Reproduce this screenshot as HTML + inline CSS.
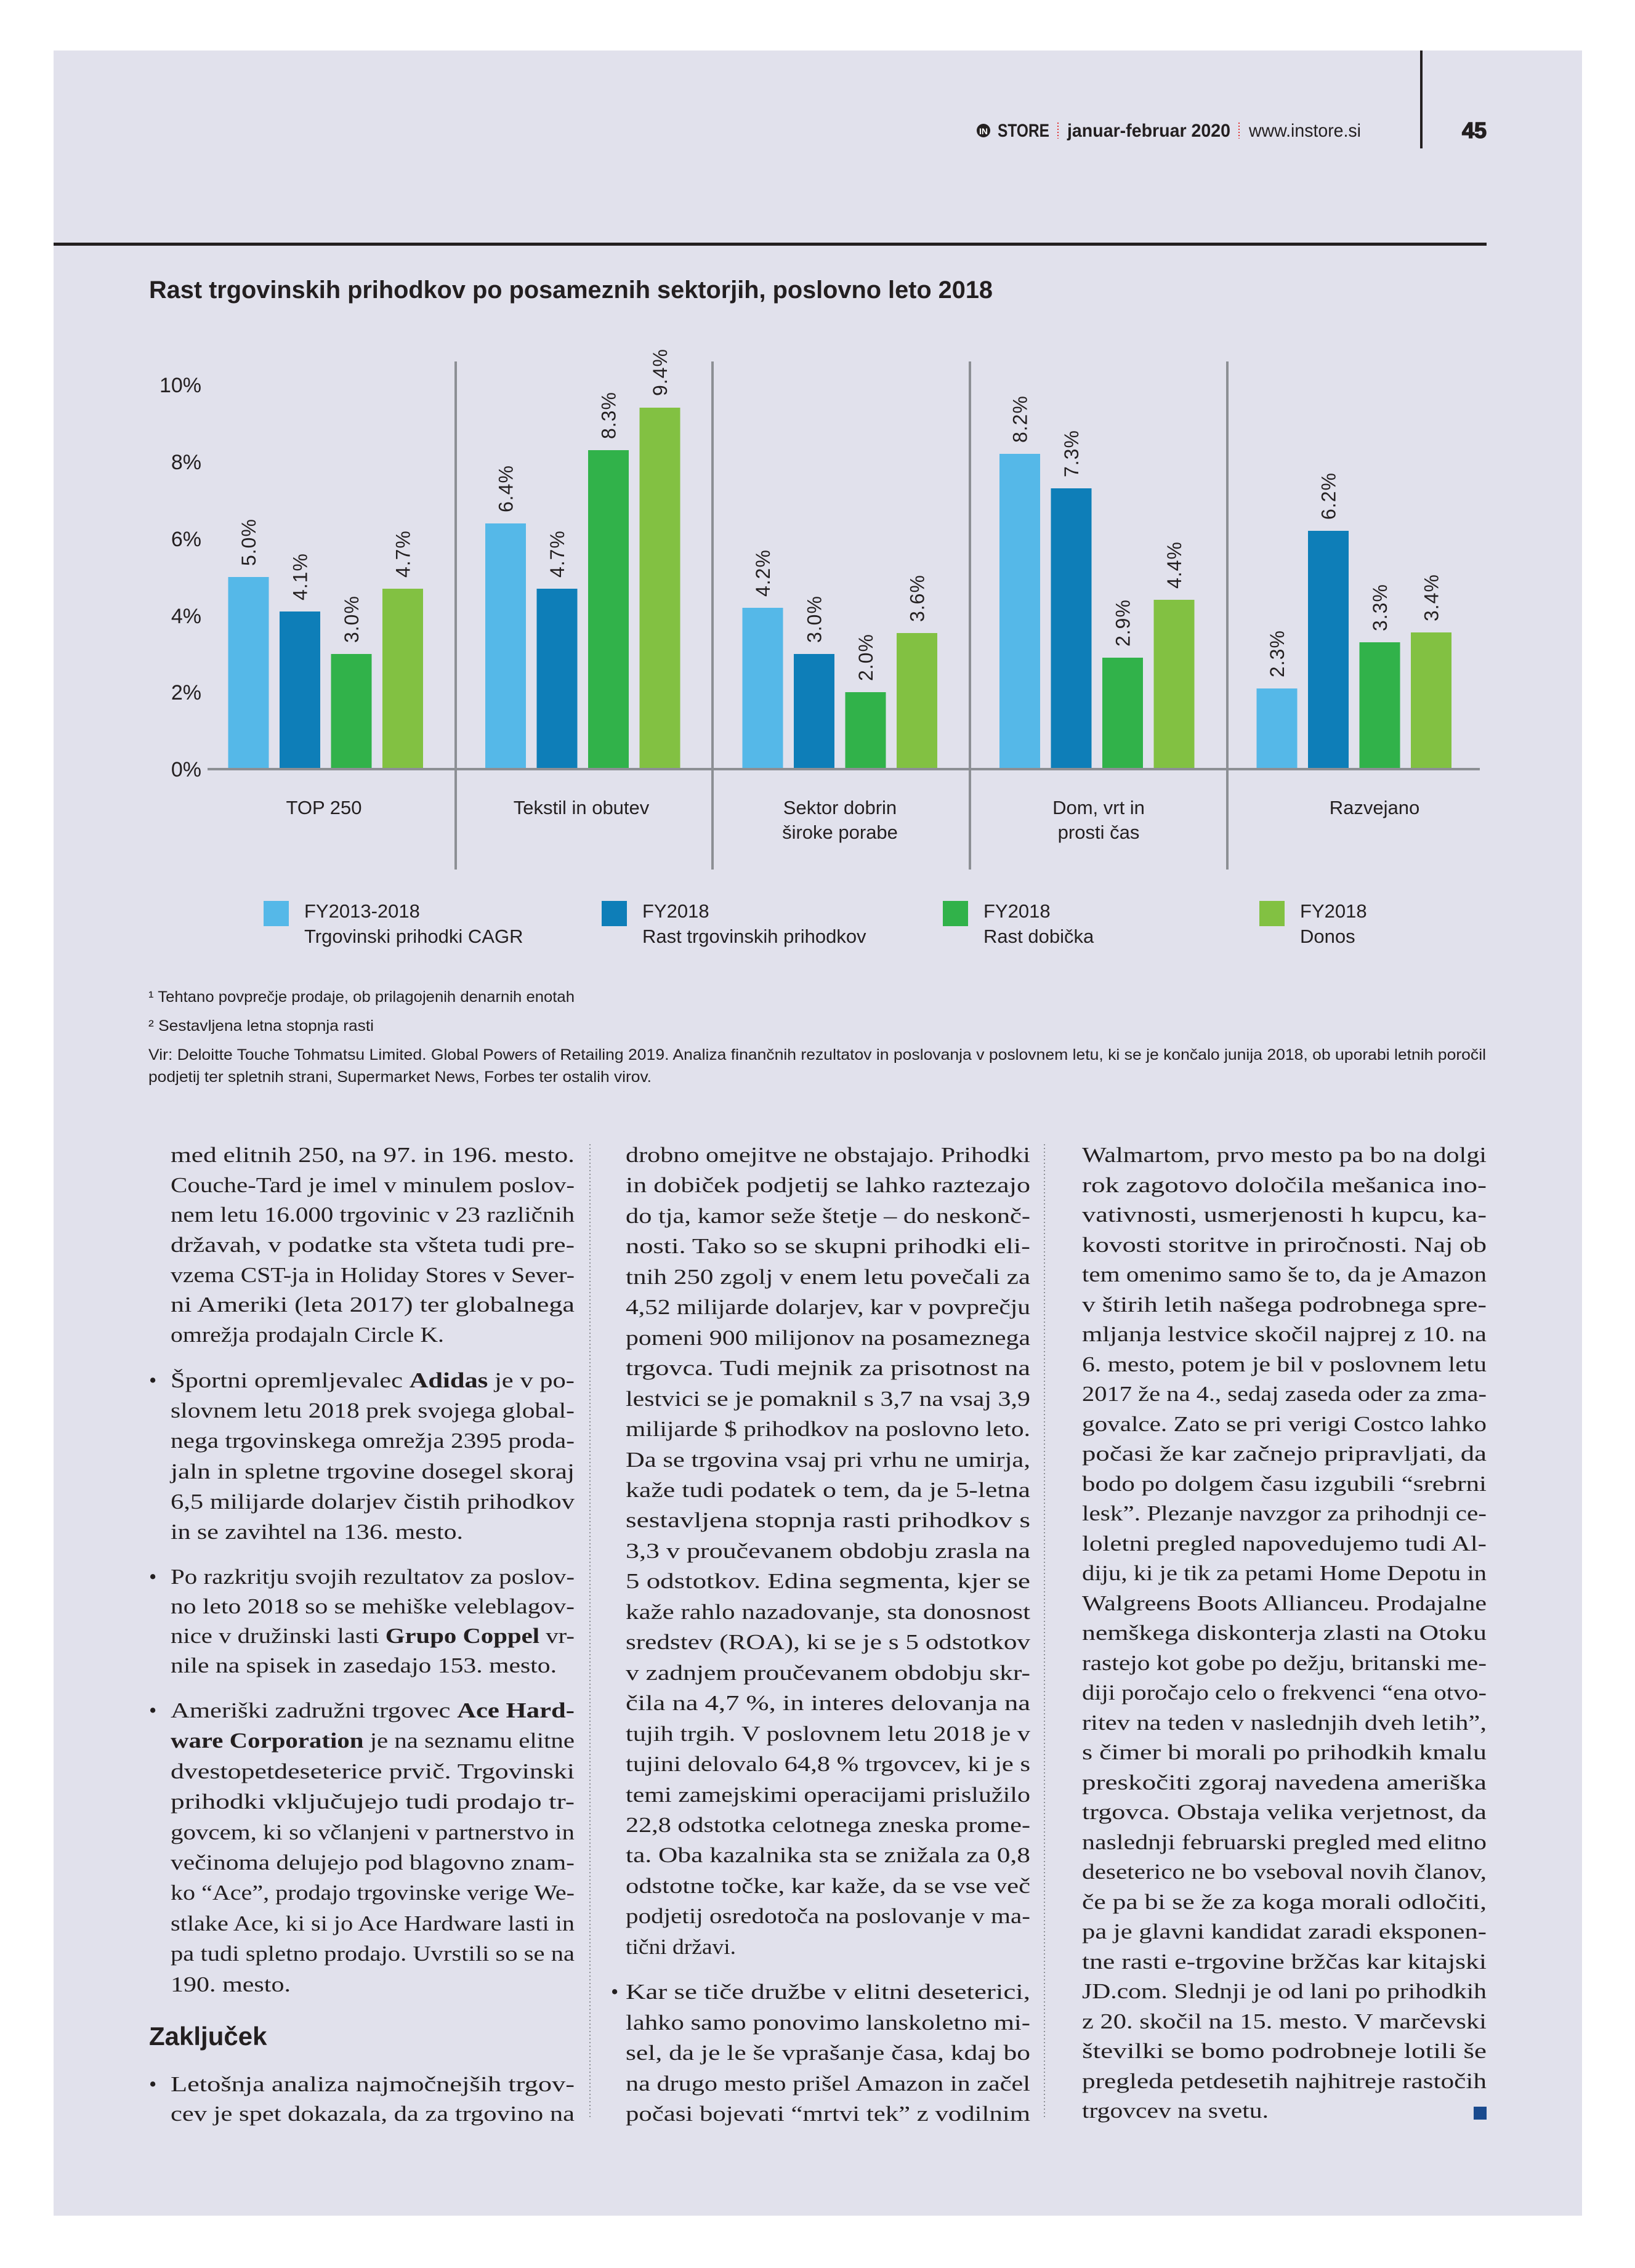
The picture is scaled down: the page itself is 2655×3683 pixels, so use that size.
<!DOCTYPE html>
<html><head><meta charset="utf-8"><style>
html,body{margin:0;padding:0;background:#fff}
body{width:2655px;height:3683px;position:relative;overflow:hidden}
#panel{position:absolute;left:87px;top:82px;width:2482px;height:3516px;background:#e1e1ec}
svg{position:absolute;left:0;top:0}
</style></head><body>
<div id="panel"></div>
<svg width="2655" height="3683" viewBox="0 0 2655 3683" xmlns="http://www.w3.org/2000/svg" font-family="Liberation Sans, sans-serif" fill="#231f20">
<rect x="2306" y="82" width="4" height="159" fill="#231f20"/>
<circle cx="1597" cy="212" r="11" fill="#231f20"/>
<text x="1597" y="218" font-size="14" font-weight="bold" fill="#fff" text-anchor="middle">IN</text>
<text x="1620" y="222" font-size="30" font-weight="bold" textLength="84" lengthAdjust="spacingAndGlyphs">STORE</text>
<line x1="1718" y1="199" x2="1718" y2="225" stroke="#e03030" stroke-width="2" stroke-dasharray="2,3"/>
<text x="1733" y="222" font-size="30" font-weight="bold" textLength="265" lengthAdjust="spacingAndGlyphs">januar-februar 2020</text>
<line x1="2012" y1="199" x2="2012" y2="225" stroke="#e03030" stroke-width="2" stroke-dasharray="2,3"/>
<text x="2028" y="222" font-size="30" textLength="182" lengthAdjust="spacingAndGlyphs">www.instore.si</text>
<text x="2374" y="224" font-size="36" font-weight="bold" stroke="#231f20" stroke-width="1.5" textLength="40" lengthAdjust="spacingAndGlyphs">45</text>
<rect x="87" y="394" width="2327" height="5" fill="#231f20"/>
<text x="242" y="484" font-size="40" font-weight="bold" textLength="1370" lengthAdjust="spacingAndGlyphs">Rast trgovinskih prihodkov po posameznih sektorjih, poslovno leto 2018</text>
<g font-size="34" text-anchor="end">
<text x="327" y="1261">0%</text><text x="327" y="1136">2%</text><text x="327" y="1012">4%</text>
<text x="327" y="887">6%</text><text x="327" y="762">8%</text><text x="327" y="637">10%</text>
</g>
<g fill="#8c8f94">
<rect x="738" y="587" width="4" height="825"/><rect x="1155" y="587" width="4" height="825"/>
<rect x="1573" y="587" width="4" height="825"/><rect x="1991" y="587" width="4" height="825"/>
</g>
<g>
<rect x="370.5" y="937" width="66" height="312" fill="#55b8e8"/>
<rect x="454" y="993" width="66" height="256" fill="#0e7eb8"/>
<rect x="537.5" y="1062" width="66" height="187" fill="#31b24a"/>
<rect x="621" y="956" width="66" height="293" fill="#82c142"/>
<rect x="788" y="850" width="66" height="399" fill="#55b8e8"/>
<rect x="871.5" y="956" width="66" height="293" fill="#0e7eb8"/>
<rect x="955" y="731" width="66" height="518" fill="#31b24a"/>
<rect x="1038.5" y="662" width="66" height="587" fill="#82c142"/>
<rect x="1205.5" y="987" width="66" height="262" fill="#55b8e8"/>
<rect x="1289" y="1062" width="66" height="187" fill="#0e7eb8"/>
<rect x="1372.5" y="1124" width="66" height="125" fill="#31b24a"/>
<rect x="1456" y="1028" width="66" height="221" fill="#82c142"/>
<rect x="1623" y="737" width="66" height="512" fill="#55b8e8"/>
<rect x="1706.5" y="793" width="66" height="456" fill="#0e7eb8"/>
<rect x="1790" y="1068" width="66" height="181" fill="#31b24a"/>
<rect x="1873.5" y="974" width="66" height="275" fill="#82c142"/>
<rect x="2040.5" y="1118" width="66" height="131" fill="#55b8e8"/>
<rect x="2124" y="862" width="66" height="387" fill="#0e7eb8"/>
<rect x="2207.5" y="1043" width="66" height="206" fill="#31b24a"/>
<rect x="2291" y="1027" width="66" height="222" fill="#82c142"/>
</g>
<rect x="337" y="1247" width="2066" height="4" fill="#8c8f94"/>
<g font-size="32" letter-spacing="1">
<text transform="translate(403.5,919) rotate(-90)" dy="0.36em">5.0%</text>
<text transform="translate(487,975) rotate(-90)" dy="0.36em">4.1%</text>
<text transform="translate(570.5,1044) rotate(-90)" dy="0.36em">3.0%</text>
<text transform="translate(654,938) rotate(-90)" dy="0.36em">4.7%</text>
<text transform="translate(821,832) rotate(-90)" dy="0.36em">6.4%</text>
<text transform="translate(904.5,938) rotate(-90)" dy="0.36em">4.7%</text>
<text transform="translate(988,713) rotate(-90)" dy="0.36em">8.3%</text>
<text transform="translate(1071.5,643) rotate(-90)" dy="0.36em">9.4%</text>
<text transform="translate(1238.5,969) rotate(-90)" dy="0.36em">4.2%</text>
<text transform="translate(1322,1044) rotate(-90)" dy="0.36em">3.0%</text>
<text transform="translate(1405.5,1106) rotate(-90)" dy="0.36em">2.0%</text>
<text transform="translate(1489,1010) rotate(-90)" dy="0.36em">3.6%</text>
<text transform="translate(1656,719) rotate(-90)" dy="0.36em">8.2%</text>
<text transform="translate(1739.5,775) rotate(-90)" dy="0.36em">7.3%</text>
<text transform="translate(1823,1050) rotate(-90)" dy="0.36em">2.9%</text>
<text transform="translate(1906.5,956) rotate(-90)" dy="0.36em">4.4%</text>
<text transform="translate(2073.5,1100) rotate(-90)" dy="0.36em">2.3%</text>
<text transform="translate(2157,844) rotate(-90)" dy="0.36em">6.2%</text>
<text transform="translate(2240.5,1025) rotate(-90)" dy="0.36em">3.3%</text>
<text transform="translate(2324,1009) rotate(-90)" dy="0.36em">3.4%</text>
</g>
<g font-size="31" text-anchor="middle">
<text x="526" y="1322">TOP 250</text>
<text x="944" y="1322">Tekstil in obutev</text>
<text x="1364" y="1322">Sektor dobrin</text><text x="1364" y="1362">široke porabe</text>
<text x="1784" y="1322">Dom, vrt in</text><text x="1784" y="1362">prosti čas</text>
<text x="2232" y="1322">Razvejano</text>
</g>
<rect x="428" y="1463" width="41" height="41" fill="#55b8e8"/>
<rect x="977" y="1463" width="41" height="41" fill="#0e7eb8"/>
<rect x="1531" y="1463" width="41" height="41" fill="#31b24a"/>
<rect x="2045" y="1463" width="41" height="41" fill="#82c142"/>
<g font-size="31">
<text x="494" y="1490">FY2013-2018</text><text x="494" y="1531">Trgovinski prihodki CAGR</text>
<text x="1043" y="1490">FY2018</text><text x="1043" y="1531">Rast trgovinskih prihodkov</text>
<text x="1597" y="1490">FY2018</text><text x="1597" y="1531">Rast dobička</text>
<text x="2111" y="1490">FY2018</text><text x="2111" y="1531">Donos</text>
</g>
<g font-size="25">
<text x="241" y="1627" textLength="692" lengthAdjust="spacingAndGlyphs">¹ Tehtano povprečje prodaje, ob prilagojenih denarnih enotah</text>
<text x="241" y="1674" textLength="366" lengthAdjust="spacingAndGlyphs">² Sestavljena letna stopnja rasti</text>
<text x="241" y="1721" textLength="2172" lengthAdjust="spacingAndGlyphs">Vir: Deloitte Touche Tohmatsu Limited. Global Powers of Retailing 2019. Analiza finančnih rezultatov in poslovanja v poslovnem letu, ki se je končalo junija 2018, ob uporabi letnih poročil</text>
<text x="241" y="1757" textLength="817" lengthAdjust="spacingAndGlyphs">podjetij ter spletnih strani, Supermarket News, Forbes ter ostalih virov.</text>
</g>
<line x1="958" y1="1858" x2="958" y2="3442" stroke="#8c8f94" stroke-width="2" stroke-dasharray="2,4"/>
<line x1="1696" y1="1858" x2="1696" y2="3442" stroke="#8c8f94" stroke-width="2" stroke-dasharray="2,4"/>
<g font-family="Liberation Serif, serif" font-size="35">
<text x="277" y="1887" textLength="656" lengthAdjust="spacingAndGlyphs">med elitnih 250, na 97. in 196. mesto.</text>
<text x="277" y="1936" textLength="656" lengthAdjust="spacingAndGlyphs">Couche-Tard je imel v minulem poslov-</text>
<text x="277" y="1984" textLength="656" lengthAdjust="spacingAndGlyphs">nem letu 16.000 trgovinic v 23 različnih</text>
<text x="277" y="2033" textLength="656" lengthAdjust="spacingAndGlyphs">državah, v podatke sta všteta tudi pre-</text>
<text x="277" y="2082" textLength="656" lengthAdjust="spacingAndGlyphs">vzema CST-ja in Holiday Stores v Sever-</text>
<text x="277" y="2130" textLength="656" lengthAdjust="spacingAndGlyphs">ni Ameriki (leta 2017) ter globalnega</text>
<text x="277" y="2179" textLength="444" lengthAdjust="spacingAndGlyphs">omrežja prodajaln Circle K.</text>
<text x="242" y="2253">•</text>
<text x="277" y="2253" textLength="656" lengthAdjust="spacingAndGlyphs">Športni opremljevalec <tspan font-weight="bold">Adidas</tspan> je v po-</text>
<text x="277" y="2302" textLength="656" lengthAdjust="spacingAndGlyphs">slovnem letu 2018 prek svojega global-</text>
<text x="277" y="2351" textLength="656" lengthAdjust="spacingAndGlyphs">nega trgovinskega omrežja 2395 proda-</text>
<text x="277" y="2401" textLength="656" lengthAdjust="spacingAndGlyphs">jaln in spletne trgovine dosegel skoraj</text>
<text x="277" y="2450" textLength="656" lengthAdjust="spacingAndGlyphs">6,5 milijarde dolarjev čistih prihodkov</text>
<text x="277" y="2499" textLength="475" lengthAdjust="spacingAndGlyphs">in se zavihtel na 136. mesto.</text>
<text x="242" y="2572">•</text>
<text x="277" y="2572" textLength="656" lengthAdjust="spacingAndGlyphs">Po razkritju svojih rezultatov za poslov-</text>
<text x="277" y="2620" textLength="656" lengthAdjust="spacingAndGlyphs">no leto 2018 so se mehiške veleblagov-</text>
<text x="277" y="2668" textLength="656" lengthAdjust="spacingAndGlyphs">nice v družinski lasti <tspan font-weight="bold">Grupo Coppel</tspan> vr-</text>
<text x="277" y="2716" textLength="627" lengthAdjust="spacingAndGlyphs">nile na spisek in zasedajo 153. mesto.</text>
<text x="242" y="2789">•</text>
<text x="277" y="2789" textLength="656" lengthAdjust="spacingAndGlyphs">Ameriški zadružni trgovec <tspan font-weight="bold">Ace Hard-</tspan></text>
<text x="277" y="2838" textLength="656" lengthAdjust="spacingAndGlyphs"><tspan font-weight="bold">ware Corporation</tspan> je na seznamu elitne</text>
<text x="277" y="2888" textLength="656" lengthAdjust="spacingAndGlyphs">dvestopetdeseterice prvič. Trgovinski</text>
<text x="277" y="2937" textLength="656" lengthAdjust="spacingAndGlyphs">prihodki vključujejo tudi prodajo tr-</text>
<text x="277" y="2987" textLength="656" lengthAdjust="spacingAndGlyphs">govcem, ki so včlanjeni v partnerstvo in</text>
<text x="277" y="3036" textLength="656" lengthAdjust="spacingAndGlyphs">večinoma delujejo pod blagovno znam-</text>
<text x="277" y="3085" textLength="656" lengthAdjust="spacingAndGlyphs">ko “Ace”, prodajo trgovinske verige We-</text>
<text x="277" y="3135" textLength="656" lengthAdjust="spacingAndGlyphs">stlake Ace, ki si jo Ace Hardware lasti in</text>
<text x="277" y="3184" textLength="656" lengthAdjust="spacingAndGlyphs">pa tudi spletno prodajo. Uvrstili so se na</text>
<text x="277" y="3234" textLength="195" lengthAdjust="spacingAndGlyphs">190. mesto.</text>
<text x="242" y="3321" font-family="Liberation Sans, sans-serif" font-size="42" font-weight="bold">Zaključek</text>
<text x="242" y="3396">•</text>
<text x="277" y="3396" textLength="656" lengthAdjust="spacingAndGlyphs">Letošnja analiza najmočnejših trgov-</text>
<text x="277" y="3444" textLength="656" lengthAdjust="spacingAndGlyphs">cev je spet dokazala, da za trgovino na</text>
<text x="1016" y="1887" textLength="657" lengthAdjust="spacingAndGlyphs">drobno omejitve ne obstajajo. Prihodki</text>
<text x="1016" y="1936" textLength="657" lengthAdjust="spacingAndGlyphs">in dobiček podjetij se lahko raztezajo</text>
<text x="1016" y="1986" textLength="657" lengthAdjust="spacingAndGlyphs">do tja, kamor seže štetje – do neskonč-</text>
<text x="1016" y="2035" textLength="657" lengthAdjust="spacingAndGlyphs">nosti. Tako so se skupni prihodki eli-</text>
<text x="1016" y="2085" textLength="657" lengthAdjust="spacingAndGlyphs">tnih 250 zgolj v enem letu povečali za</text>
<text x="1016" y="2134" textLength="657" lengthAdjust="spacingAndGlyphs">4,52 milijarde dolarjev, kar v povprečju</text>
<text x="1016" y="2184" textLength="657" lengthAdjust="spacingAndGlyphs">pomeni 900 milijonov na posameznega</text>
<text x="1016" y="2233" textLength="657" lengthAdjust="spacingAndGlyphs">trgovca. Tudi mejnik za prisotnost na</text>
<text x="1016" y="2283" textLength="657" lengthAdjust="spacingAndGlyphs">lestvici se je pomaknil s 3,7 na vsaj 3,9</text>
<text x="1016" y="2332" textLength="657" lengthAdjust="spacingAndGlyphs">milijarde $ prihodkov na poslovno leto.</text>
<text x="1016" y="2382" textLength="657" lengthAdjust="spacingAndGlyphs">Da se trgovina vsaj pri vrhu ne umirja,</text>
<text x="1016" y="2431" textLength="657" lengthAdjust="spacingAndGlyphs">kaže tudi podatek o tem, da je 5-letna</text>
<text x="1016" y="2480" textLength="657" lengthAdjust="spacingAndGlyphs">sestavljena stopnja rasti prihodkov s</text>
<text x="1016" y="2530" textLength="657" lengthAdjust="spacingAndGlyphs">3,3 v proučevanem obdobju zrasla na</text>
<text x="1016" y="2579" textLength="657" lengthAdjust="spacingAndGlyphs">5 odstotkov. Edina segmenta, kjer se</text>
<text x="1016" y="2629" textLength="657" lengthAdjust="spacingAndGlyphs">kaže rahlo nazadovanje, sta donosnost</text>
<text x="1016" y="2678" textLength="657" lengthAdjust="spacingAndGlyphs">sredstev (ROA), ki se je s 5 odstotkov</text>
<text x="1016" y="2728" textLength="657" lengthAdjust="spacingAndGlyphs">v zadnjem proučevanem obdobju skr-</text>
<text x="1016" y="2777" textLength="657" lengthAdjust="spacingAndGlyphs">čila na 4,7 %, in interes delovanja na</text>
<text x="1016" y="2827" textLength="657" lengthAdjust="spacingAndGlyphs">tujih trgih. V poslovnem letu 2018 je v</text>
<text x="1016" y="2876" textLength="657" lengthAdjust="spacingAndGlyphs">tujini delovalo 64,8 % trgovcev, ki je s</text>
<text x="1016" y="2926" textLength="657" lengthAdjust="spacingAndGlyphs">temi zamejskimi operacijami prislužilo</text>
<text x="1016" y="2975" textLength="657" lengthAdjust="spacingAndGlyphs">22,8 odstotka celotnega zneska prome-</text>
<text x="1016" y="3024" textLength="657" lengthAdjust="spacingAndGlyphs">ta. Oba kazalnika sta se znižala za 0,8</text>
<text x="1016" y="3074" textLength="657" lengthAdjust="spacingAndGlyphs">odstotne točke, kar kaže, da se vse več</text>
<text x="1016" y="3123" textLength="657" lengthAdjust="spacingAndGlyphs">podjetij osredotoča na poslovanje v ma-</text>
<text x="1016" y="3173" textLength="179" lengthAdjust="spacingAndGlyphs">tični državi.</text>
<text x="992" y="3246">•</text>
<text x="1016" y="3246" textLength="657" lengthAdjust="spacingAndGlyphs">Kar se tiče družbe v elitni deseterici,</text>
<text x="1016" y="3296" textLength="657" lengthAdjust="spacingAndGlyphs">lahko samo ponovimo lanskoletno mi-</text>
<text x="1016" y="3345" textLength="657" lengthAdjust="spacingAndGlyphs">sel, da je le še vprašanje časa, kdaj bo</text>
<text x="1016" y="3395" textLength="657" lengthAdjust="spacingAndGlyphs">na drugo mesto prišel Amazon in začel</text>
<text x="1016" y="3444" textLength="657" lengthAdjust="spacingAndGlyphs">počasi bojevati “mrtvi tek” z vodilnim</text>
<text x="1757" y="1887" textLength="657" lengthAdjust="spacingAndGlyphs">Walmartom, prvo mesto pa bo na dolgi</text>
<text x="1757" y="1936" textLength="657" lengthAdjust="spacingAndGlyphs">rok zagotovo določila mešanica ino-</text>
<text x="1757" y="1984" textLength="657" lengthAdjust="spacingAndGlyphs">vativnosti, usmerjenosti h kupcu, ka-</text>
<text x="1757" y="2033" textLength="657" lengthAdjust="spacingAndGlyphs">kovosti storitve in priročnosti. Naj ob</text>
<text x="1757" y="2081" textLength="657" lengthAdjust="spacingAndGlyphs">tem omenimo samo še to, da je Amazon</text>
<text x="1757" y="2130" textLength="657" lengthAdjust="spacingAndGlyphs">v štirih letih našega podrobnega spre-</text>
<text x="1757" y="2178" textLength="657" lengthAdjust="spacingAndGlyphs">mljanja lestvice skočil najprej z 10. na</text>
<text x="1757" y="2227" textLength="657" lengthAdjust="spacingAndGlyphs">6. mesto, potem je bil v poslovnem letu</text>
<text x="1757" y="2275" textLength="657" lengthAdjust="spacingAndGlyphs">2017 že na 4., sedaj zaseda oder za zma-</text>
<text x="1757" y="2324" textLength="657" lengthAdjust="spacingAndGlyphs">govalce. Zato se pri verigi Costco lahko</text>
<text x="1757" y="2372" textLength="657" lengthAdjust="spacingAndGlyphs">počasi že kar začnejo pripravljati, da</text>
<text x="1757" y="2421" textLength="657" lengthAdjust="spacingAndGlyphs">bodo po dolgem času izgubili “srebrni</text>
<text x="1757" y="2469" textLength="657" lengthAdjust="spacingAndGlyphs">lesk”. Plezanje navzgor za prihodnji ce-</text>
<text x="1757" y="2518" textLength="657" lengthAdjust="spacingAndGlyphs">loletni pregled napovedujemo tudi Al-</text>
<text x="1757" y="2566" textLength="657" lengthAdjust="spacingAndGlyphs">diju, ki je tik za petami Home Depotu in</text>
<text x="1757" y="2615" textLength="657" lengthAdjust="spacingAndGlyphs">Walgreens Boots Allianceu. Prodajalne</text>
<text x="1757" y="2663" textLength="657" lengthAdjust="spacingAndGlyphs">nemškega diskonterja zlasti na Otoku</text>
<text x="1757" y="2712" textLength="657" lengthAdjust="spacingAndGlyphs">rastejo kot gobe po dežju, britanski me-</text>
<text x="1757" y="2760" textLength="657" lengthAdjust="spacingAndGlyphs">diji poročajo celo o frekvenci “ena otvo-</text>
<text x="1757" y="2809" textLength="657" lengthAdjust="spacingAndGlyphs">ritev na teden v naslednjih dveh letih”,</text>
<text x="1757" y="2857" textLength="657" lengthAdjust="spacingAndGlyphs">s čimer bi morali po prihodkih kmalu</text>
<text x="1757" y="2906" textLength="657" lengthAdjust="spacingAndGlyphs">preskočiti zgoraj navedena ameriška</text>
<text x="1757" y="2954" textLength="657" lengthAdjust="spacingAndGlyphs">trgovca. Obstaja velika verjetnost, da</text>
<text x="1757" y="3003" textLength="657" lengthAdjust="spacingAndGlyphs">naslednji februarski pregled med elitno</text>
<text x="1757" y="3051" textLength="657" lengthAdjust="spacingAndGlyphs">deseterico ne bo vseboval novih članov,</text>
<text x="1757" y="3100" textLength="657" lengthAdjust="spacingAndGlyphs">če pa bi se že za koga morali odločiti,</text>
<text x="1757" y="3148" textLength="657" lengthAdjust="spacingAndGlyphs">pa je glavni kandidat zaradi eksponen-</text>
<text x="1757" y="3197" textLength="657" lengthAdjust="spacingAndGlyphs">tne rasti e-trgovine bržčas kar kitajski</text>
<text x="1757" y="3245" textLength="657" lengthAdjust="spacingAndGlyphs">JD.com. Slednji je od lani po prihodkih</text>
<text x="1757" y="3294" textLength="657" lengthAdjust="spacingAndGlyphs">z 20. skočil na 15. mesto. V marčevski</text>
<text x="1757" y="3342" textLength="657" lengthAdjust="spacingAndGlyphs">številki se bomo podrobneje lotili še</text>
<text x="1757" y="3391" textLength="657" lengthAdjust="spacingAndGlyphs">pregleda petdesetih najhitreje rastočih</text>
<text x="1757" y="3439" textLength="303" lengthAdjust="spacingAndGlyphs">trgovcev na svetu.</text>
</g>
<rect x="2393" y="3421" width="21" height="21" fill="#1a4a8e"/>
</svg>
</body></html>
